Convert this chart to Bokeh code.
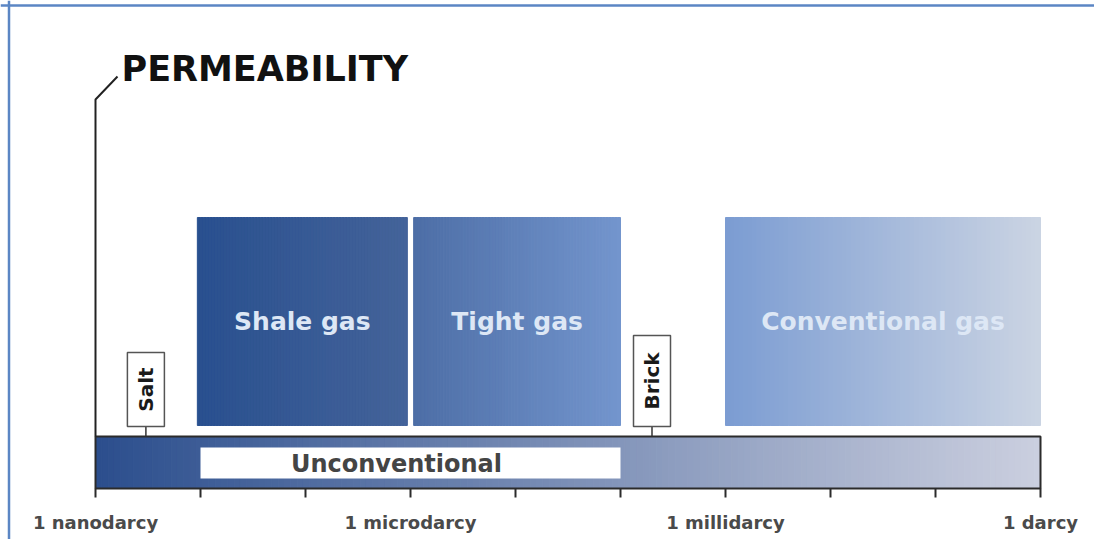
import numpy as np
from bokeh.plotting import figure
from bokeh.models import Range1d, Span
from bokeh.core.properties import value
from bokeh.embed import file_html
from bokeh.resources import INLINE

# ---------------- data (permeability in log10(darcy)) ----------------
gas_names = ["Shale gas", "Tight gas", "Conventional gas"]
gas_low = [-8.03, -5.97, -3.0]
gas_high = [-6.03, -4.0, 0.0]
unconv_low, unconv_high = -8.0, -4.0
materials = ["Salt", "Brick"]
material_perm = [-8.52, -3.7]
scale_min, scale_max = -9, 0
tick_values = list(range(-9, 1))
label_values = [-9, -6, -3, 0]
label_texts = ["1 nanodarcy", "1 microdarcy", "1 millidarcy", "1 darcy"]

# ---------------- styles ----------------
gas_color_left = ["#29508f", "#4d6ea6", "#7b9cd2"]
gas_color_right = ["#44639a", "#7395cd", "#cbd4e3"]
bar_color_left, bar_color_right = "#2b4e8d", "#cbcfdf"
FONT = value("DejaVu Sans")

PX_PER_DEC = 105.0
X0_PX = 95.0
W, H = 1094, 539


def xd(px):
    return scale_min + (px - X0_PX) / PX_PER_DEC


def hex2rgb(h):
    h = h.lstrip("#")
    return np.array([int(h[i:i + 2], 16) for i in (0, 2, 4)], dtype=float)


def mix(c1, c2, t):
    a, b = hex2rgb(c1), hex2rgb(c2)
    c = a + (b - a) * t
    return "#%02x%02x%02x" % tuple(int(round(v)) for v in c)


def gradient_quads(p, lo, hi, top, bottom, c1, c2, n=70):
    edges = np.linspace(lo, hi, n + 1)
    mids = (np.arange(n) + 0.5) / n
    cols = [mix(c1, c2, t) for t in mids]
    p.quad(left=edges[:-1], right=edges[1:], top=top, bottom=bottom,
           fill_color=cols, line_color=cols, line_width=1)


p = figure(width=W, height=H, output_backend="svg", toolbar_location=None,
           x_range=Range1d(xd(0), xd(W)), y_range=Range1d(H, 0),
           min_border=0)
p.axis.visible = False
p.xgrid.visible = False
p.ygrid.visible = False
p.outline_line_color = None
p.background_fill_color = "white"

# frame (top + left)
p.add_layout(Span(location=5, dimension="width", line_color="#5b86c4", line_width=2.5))
p.add_layout(Span(location=xd(8.5), dimension="height", line_color="#5b86c4", line_width=2.5))

# gas boxes
BOX_TOP, BOX_BOTTOM = 217, 425
for lo, hi, c1, c2 in zip(gas_low, gas_high, gas_color_left, gas_color_right):
    gradient_quads(p, lo, hi, BOX_TOP, BOX_BOTTOM, c1, c2)
p.text(x=[(a + b) / 2 for a, b in zip(gas_low, gas_high)], y=[321] * 3, text=gas_names,
       text_font=FONT, text_font_style="bold", text_font_size="25px",
       text_color="#dde7f5", text_align="center", text_baseline="middle")

# permeability bar
BAR_TOP, BAR_BOTTOM = 436, 488
gradient_quads(p, scale_min, scale_max, BAR_TOP, BAR_BOTTOM, bar_color_left, bar_color_right, n=150)
p.quad(left=[unconv_low], right=[unconv_high], top=[447], bottom=[478],
       fill_color="white", line_color=None)
p.text(x=[(unconv_low + unconv_high) / 2], y=[463], text=["Unconventional"], x_offset=-14,
       text_font=FONT, text_font_style="bold", text_font_size="24px",
       text_color="#444444", text_align="center", text_baseline="middle")
p.quad(left=[scale_min], right=[scale_max], top=[BAR_TOP], bottom=[BAR_BOTTOM],
       fill_color=None, line_color="#2b2b2b", line_width=2)

# ticks and labels
p.segment(x0=tick_values, y0=[BAR_BOTTOM] * len(tick_values), x1=tick_values,
          y1=[BAR_BOTTOM + 9] * len(tick_values), line_color="#2b2b2b", line_width=2)
p.text(x=label_values, y=[522] * len(label_values), text=label_texts,
       text_font=FONT, text_font_style="bold", text_font_size="18px",
       text_color="#4a4a4a", text_align="center", text_baseline="middle")

# material markers
mat_box_top = [352, 335]
MAT_BOX_BOTTOM = 426
half_w = 18.5 / PX_PER_DEC
for name, xv, top in zip(materials, material_perm, mat_box_top):
    p.segment(x0=[xv], y0=[MAT_BOX_BOTTOM], x1=[xv], y1=[BAR_TOP], line_color="#333333", line_width=1.5)
    p.quad(left=[xv - half_w], right=[xv + half_w], top=[top], bottom=[MAT_BOX_BOTTOM],
           fill_color="white", line_color="#555555", line_width=1.5)
    p.text(x=[xv], y=[(top + MAT_BOX_BOTTOM) / 2], text=[name], angle=np.pi / 2,
           text_font=FONT, text_font_style="bold", text_font_size="20px",
           text_color="#1a1a1a", text_align="center", text_baseline="middle")

# title and leader
p.line(x=[xd(117), xd(95), xd(95)], y=[76, 99, BAR_TOP], line_color="#222222", line_width=2)
p.text(x=[xd(121)], y=[68], text=["PERMEABILITY"],
       text_font=FONT, text_font_style="bold", text_font_size="35px",
       text_color="#111111", text_align="left", text_baseline="alphabetic")

open("out.html", "w").write(file_html(p, INLINE))
